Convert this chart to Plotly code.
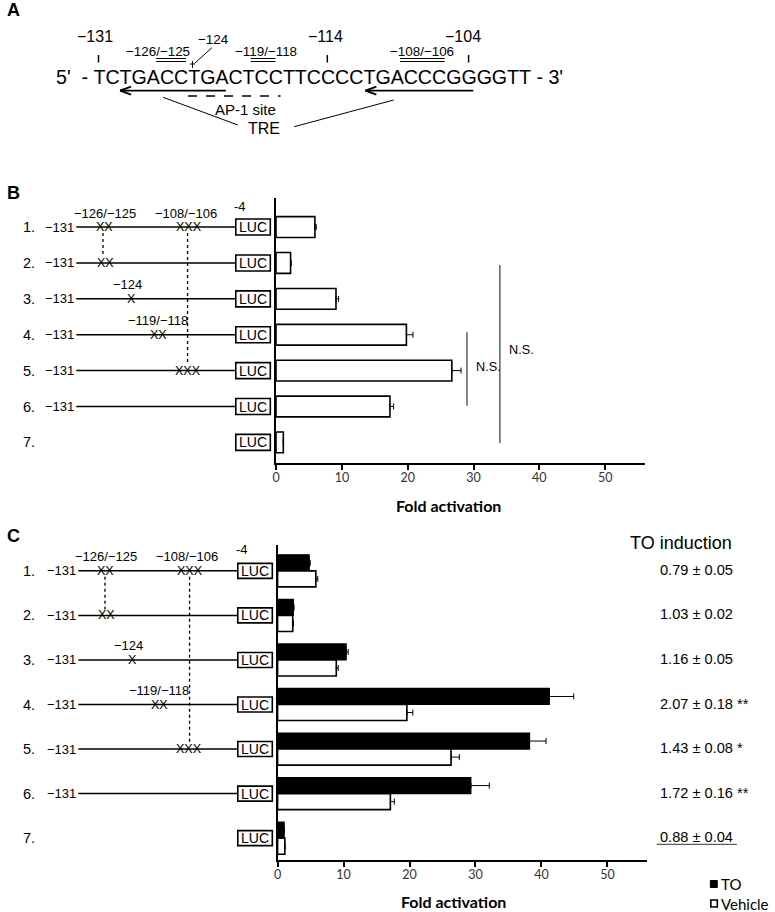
import plotly.graph_objects as go

W, H = 775, 912

ARIAL = "Liberation Sans, Arial, sans-serif"
CALIBRI = "Lato, Calibri, sans-serif"

# ---- data ----
rows = [1, 2, 3, 4, 5, 6, 7]
row_labels = ["1.", "2.", "3.", "4.", "5.", "6.", "7."]

b_fold = [5.9, 2.2, 9.1, 19.8, 26.7, 17.3, 1.1]
b_err = [0.2, 0.1, 0.4, 1.0, 1.4, 0.55, 0.0]

c_to = [4.8, 2.4, 10.4, 41.2, 38.2, 29.3, 1.0]
c_to_err = [0.15, 0.1, 0.3, 3.7, 2.5, 2.8, 0.0]
c_vehicle = [5.8, 2.3, 8.9, 19.6, 26.3, 17.1, 1.1]
c_vehicle_err = [0.3, 0.1, 0.3, 0.9, 1.25, 0.6, 0.0]

to_induction = ["0.79 ± 0.05", "1.03 ± 0.02", "1.16 ± 0.05", "2.07 ± 0.18 **",
                "1.43 ± 0.08 *", "1.72 ± 0.16 **", "0.88 ± 0.04"]

x_ticks = [0, 10, 20, 30, 40, 50]

# NS comparisons in panel B: (x value, row from, row to, label row)
ns_b = [(29.0, 3.93, 5.98, 4.9), (34.0, 2.06, 7.02, 4.43)]

# constructs: mutation marks (label, glyphs, x in px)
mutations = {
    1: [("−126/−125", "XX", 101), ("−108/−106", "XXX", 186)],
    2: [(None, "XX", 102)],
    3: [("−124", "X", 128)],
    4: [("−119/−118", "XX", 155)],
    5: [(None, "XXX", 185)],
}

seq = "TCTGACCTGACTCCTTCCCCTGACCCGGGGTT"

fig = go.Figure()

# ---- panel B bars ----
fig.add_trace(go.Bar(
    y=rows, x=b_fold, orientation="h", width=0.58,
    marker=dict(color="white", line=dict(color="black", width=1.6)),
    error_x=dict(type="data", array=b_err, arrayminus=[0] * 7, symmetric=False,
                 color="black", thickness=1, width=3),
    xaxis="x", yaxis="y", showlegend=False,
))

# ---- panel C bars ----
fig.add_trace(go.Bar(
    y=rows, x=c_to, orientation="h", width=0.36, offset=-0.36, name="TO",
    marker=dict(color="black", line=dict(color="black", width=1.2)),
    error_x=dict(type="data", array=c_to_err, arrayminus=[0] * 7, symmetric=False,
                 color="black", thickness=1, width=3),
    xaxis="x2", yaxis="y2", showlegend=False,
))
fig.add_trace(go.Bar(
    y=rows, x=c_vehicle, orientation="h", width=0.36, offset=0, name="Vehicle",
    marker=dict(color="white", line=dict(color="black", width=1.6)),
    error_x=dict(type="data", array=c_vehicle_err, arrayminus=[0] * 7, symmetric=False,
                 color="black", thickness=1, width=3),
    xaxis="x2", yaxis="y2", showlegend=False,
))

# invisible pixel canvas for drawings
fig.add_trace(go.Scatter(x=[], y=[], xaxis="x3", yaxis="y3", showlegend=False))

shapes = []
annots = []


def line(x0, y0, x1, y1, width=1.5, dash=None, color="black", xref="x3", yref="y3"):
    shapes.append(dict(type="line", xref=xref, yref=yref, x0=x0, y0=y0, x1=x1, y1=y1,
                       line=dict(color=color, width=width, dash=dash)))


def text(x, y, s, size, xanchor="center", font=ARIAL, color="black", xref="x3", yref="y3",
         yshift=0, bold=False):
    if bold:
        s = "<b>" + s + "</b>"
    annots.append(dict(x=x, y=y, xref=xref, yref=yref, text=s, showarrow=False,
                       xanchor=xanchor, yanchor="middle", yshift=yshift,
                       font=dict(family=font, size=size, color=color)))


# ---- panel letters ----
text(1, 10, "A", 18, xanchor="left", bold=True)
text(1, 193, "B", 18, xanchor="left", bold=True)
text(1, 536, "C", 18, xanchor="left", bold=True)

# ---- panel A: sequence ----
nb = "\u00a0"
text(50.5, 77, "5'" + nb * 2 + "-" + nb + seq + nb + "-" + nb + "3'", 19.6, xanchor="left")
for lab, xc, xt in [("−131", 91, 95), ("−114", 323, 325), ("−104", 461, 467)]:
    text(xc, 36.5, lab, 16)
    line(xt, 55, xt, 62.5, width=1.5)
for lab, xc, u0, u1 in [("−126/−125", 155, 153, 183), ("−119/−118", 263, 248, 273),
                        ("−108/−106", 420, 398, 443)]:
    text(xc, 51.5, lab, 13.4)
    line(u0, 58.5, u1, 58.5, width=1)
    line(u0, 61.5, u1, 61.5, width=1)
text(211, 39, "−124", 13.4)
line(191.7, 63.3, 209, 47.7, width=1)
line(189.5, 61, 189.5, 68, width=1)
line(187, 64, 192, 64, width=1)
for tip, tail in [(116.7, 223), (363.3, 471.7)]:
    line(tip, 90.7, tail, 90.7, width=1.8)
    line(tip, 90.7, tip + 11, 86.7, width=1.8)
    line(tip, 90.7, tip + 11, 94.7, width=1.8)
line(185, 96, 278, 96, width=1.5, dash="dash")
text(243, 109, "AP-1 site", 15)
text(261.7, 128.5, "TRE", 16)
line(160, 97.3, 235, 125, width=1)
line(291.7, 126.7, 391.7, 100, width=1)


# ---- construct diagrams ----
def constructs(yref, dx, half_box, row_gap_px):
    x_line0, x_box0, x_box1 = 72.7 + dx, 233 + dx, 267.7 + dx
    for r, lab in zip(rows, row_labels):
        text(17, r, lab, 14.5, xanchor="left", yref=yref)
        shapes.append(dict(type="rect", xref="x3", yref=yref, ysizemode="pixel", yanchor=r,
                           x0=x_box0, x1=x_box1, y0=-half_box, y1=half_box,
                           line=dict(color="black", width=1.6), fillcolor="white"))
        text((x_box0 + x_box1) / 2, r, "LUC", 14, yref=yref)
        if r == 7:
            continue
        text(x_line0 - 0.5, r, "−131", 13, xanchor="right", yref=yref)
        line(x_line0, r, x_box0, r, width=1.5, yref=yref)
        for lab_m, glyph, xm in mutations.get(r, []):
            text(xm + dx * 0.5, r, glyph, 12.5, yref=yref)
            if lab_m:
                xl = xm + dx * 0.5 + (1 if lab_m == "−126/−125" else -3 if lab_m == "−108/−106" else -4 if lab_m == "−124" else 0)
                text(xl, r, lab_m, 13, yref=yref, yshift=14)
    text(x_box0 + 4.5, 1, "-4", 13, yref=yref, yshift=21)
    g = 6 / row_gap_px
    line(99.5 + dx, 1 + g, 99.5 + dx, 2 - g, width=1.3, dash="dot", yref=yref)
    line(184.5 + dx, 1 + g, 184.5 + dx, 5 - g, width=1.3, dash="dot", yref=yref)


constructs("y", 0, 8, 35.9)
constructs("y2", 2, 7.5, 44.55)

# ---- N.S. brackets in panel B ----
for xv, r0, r1, rl in ns_b:
    line(xv, r0, xv, r1, width=1.3, color="#444", xref="x", yref="y")
    text(xv + 1.1, rl, "N.S.", 12.7, xanchor="left", xref="x", yref="y")

# ---- axis titles ----
text(446.5, 505, "Fold activation", 16, font=CALIBRI, bold=True)
text(451.5, 901.5, "Fold activation", 16, font=CALIBRI, bold=True)

# ---- TO induction column ----
text(734, 542.7, "TO induction", 18, xanchor="right")
for r, s in zip(rows, to_induction):
    text(657, r, s, 14.6, xanchor="left", xref="x3", yref="y2", yshift=1)
line(656, 844.3, 736.7, 844.3, width=1, color="#333")

# ---- legend ----
shapes.append(dict(type="rect", xref="x3", yref="y3", x0=710, x1=717, y0=880.5, y1=887.5,
                   fillcolor="black", line=dict(color="black", width=1)))
shapes.append(dict(type="rect", xref="x3", yref="y3", x0=710.5, x1=717, y0=900, y1=907,
                   fillcolor="white", line=dict(color="black", width=1.6)))
text(719, 884, "TO", 15, xanchor="left", font=CALIBRI)
text(719, 903.5, "Vehicle", 15, xanchor="left", font=CALIBRI)

axis_common = dict(showgrid=False, zeroline=False, showline=True, linecolor="black",
                   linewidth=2, fixedrange=True)
x_common = dict(tickvals=x_ticks, ticks="outside", ticklen=5, tickwidth=1.5, tickcolor="black",
                ticklabelstandoff=-3, tickfont=dict(family=CALIBRI, size=12.5, color="#333"))

fig.update_layout(
    width=W, height=H,
    margin=dict(l=0, r=0, t=0, b=0, pad=0),
    paper_bgcolor="white", plot_bgcolor="rgba(0,0,0,0)",
    barmode="overlay",
    xaxis=dict(domain=[273.5 / W, 644 / W], range=[0, 56], anchor="y", **x_common, **axis_common),
    yaxis=dict(domain=[1 - 462.5 / H, 1 - 198 / H], range=[7.56, 0.19], anchor="x",
               showticklabels=False, ticks="", **axis_common),
    xaxis2=dict(domain=[275 / W, 646.7 / W], range=[0, 56.06], anchor="y2", **x_common, **axis_common),
    yaxis2=dict(domain=[1 - 860 / H, 1 - 545 / H], range=[7.49, 0.42], anchor="x2",
                showticklabels=False, ticks="", **axis_common),
    xaxis3=dict(domain=[0, 1], range=[0, W], anchor="y3", visible=False, fixedrange=True),
    yaxis3=dict(domain=[0, 1], range=[H, 0], anchor="x3", visible=False, fixedrange=True),
    shapes=shapes,
    annotations=annots,
)

# the page body has a default 8px margin; drop it so the figure sits at the top-left corner
fig.write_html("out.html", config={"displayModeBar": False},
               post_script="document.body.style.margin='0';")
